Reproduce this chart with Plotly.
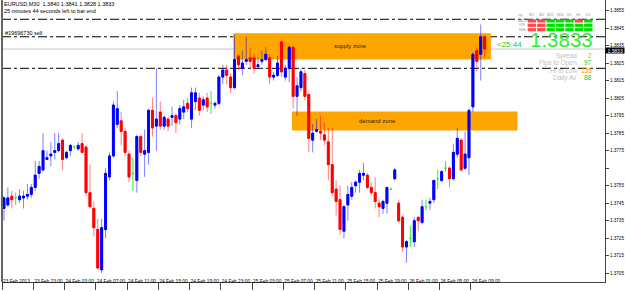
import plotly.graph_objects as go

# ---------------- data ----------------
symbol_line = "EURUSD,M30  1.3840 1.3841 1.3828 1.3833"
timer_line = "25 minutes 44 seconds left to bar end"
order_label = "#19696730 sell"

tick_labels = ["23 Feb 2013", "23 Feb 23:00", "24 Feb 03:00", "24 Feb 07:00", "24 Feb 11:00",
               "24 Feb 15:00", "24 Feb 19:00", "24 Feb 23:00", "25 Feb 03:00", "25 Feb 07:00",
               "25 Feb 11:00", "25 Feb 15:00", "25 Feb 19:00", "26 Feb 01:00", "26 Feb 05:00",
               "26 Feb 09:00"]
bars_per_label = 8

price_ticks = [1.3705, 1.3715, 1.3725, 1.3735, 1.3745, 1.3755, 1.3765, 1.3775, 1.3785,
               1.3795, 1.3805, 1.3815, 1.3825, 1.3835, 1.3845, 1.3855]
price_tick_text = ["1.3705", "1.3715", "1.3725", "1.3735", "1.3745", "1.3755", "", "1.3775",
                   "1.3785", "1.3795", "1.3805", "1.3815", "1.3825", "1.3835", "1.3845", "1.3855"]

opens = [1.3742, 1.3744, 1.3749, 1.3748, 1.3747, 1.3748, 1.3749, 1.3750, 1.3754, 1.3762,
         1.3764, 1.3770, 1.3772, 1.3774, 1.3775, 1.3781, 1.3771, 1.3775, 1.3777, 1.3776,
         1.3779, 1.3777, 1.3751, 1.3742, 1.3730, 1.3707, 1.3730, 1.3760, 1.3772, 1.3790,
         1.3792, 1.3786, 1.3773, 1.3762, 1.3758, 1.3783, 1.3773, 1.3774, 1.3798, 1.3789,
         1.3797, 1.3789, 1.3793, 1.3794, 1.3795, 1.3793, 1.3797, 1.3802, 1.3793, 1.3803,
         1.3805, 1.3801, 1.3805, 1.3802, 1.3801, 1.3802, 1.3817, 1.3821, 1.3817, 1.3811,
         1.3829, 1.3822, 1.3826, 1.3828, 1.3828, 1.3823, 1.3826, 1.3827, 1.3828, 1.3817,
         1.3818, 1.3837, 1.3817, 1.3822, 1.3834, 1.3806, 1.3811, 1.3819, 1.3807, 1.3781,
         1.3786, 1.3786, 1.3784, 1.3780, 1.3767, 1.3753, 1.3747, 1.3729, 1.3744, 1.3749,
         1.3755, 1.3757, 1.3761, 1.3761, 1.3754, 1.3751, 1.3745, 1.3742, 1.3745, 1.3753,
         1.3759, 1.3745, 1.3737, 1.3720, 1.3725, 1.3723, 1.3737, 1.3734, 1.3743, 1.3745,
         1.3747, 1.3759, 1.3758, 1.3765, 1.3765, 1.3759, 1.3773, 1.3781, 1.3765, 1.3771,
         1.3800, 1.3832, 1.3830, 1.3840]
highs = [1.3749, 1.3754, 1.3752, 1.3751, 1.3753, 1.3752, 1.3756, 1.3756, 1.3769, 1.3769,
         1.3785, 1.3775, 1.3780, 1.3785, 1.3785, 1.3782, 1.3775, 1.3779, 1.3778, 1.3780,
         1.3785, 1.3778, 1.3767, 1.3746, 1.3736, 1.3736, 1.3765, 1.3774, 1.3803, 1.3809,
         1.3797, 1.3788, 1.3775, 1.3771, 1.3784, 1.3784, 1.3787, 1.3799, 1.3805, 1.3822,
         1.3803, 1.3795, 1.3794, 1.3800, 1.3796, 1.3801, 1.3804, 1.3805, 1.3811, 1.3811,
         1.3808, 1.3806, 1.3808, 1.3809, 1.3803, 1.3818, 1.3824, 1.3824, 1.3819, 1.3841,
         1.3830, 1.3832, 1.3840, 1.3834, 1.3830, 1.3828, 1.3832, 1.3834, 1.3830, 1.3820,
         1.3829, 1.3838, 1.3824, 1.3835, 1.3835, 1.3817, 1.3822, 1.3821, 1.3808, 1.3790,
         1.3793, 1.3795, 1.3791, 1.3788, 1.3788, 1.3758, 1.3755, 1.3744, 1.3755, 1.3757,
         1.3758, 1.3764, 1.3768, 1.3762, 1.3757, 1.3760, 1.3747, 1.3747, 1.3754, 1.3754,
         1.3765, 1.3747, 1.3738, 1.3724, 1.3732, 1.3737, 1.3737, 1.3747, 1.3747, 1.3748,
         1.3758, 1.3764, 1.3764, 1.3769, 1.3766, 1.3779, 1.3788, 1.3782, 1.3786, 1.3799,
         1.3831, 1.3834, 1.3847, 1.3841]
lows = [1.3735, 1.3743, 1.3742, 1.3744, 1.3745, 1.3742, 1.3747, 1.3748, 1.3752, 1.3759,
        1.3763, 1.3770, 1.3766, 1.3770, 1.3774, 1.3764, 1.3770, 1.3772, 1.3776, 1.3775,
        1.3774, 1.3749, 1.3742, 1.3726, 1.3707, 1.3705, 1.3725, 1.3758, 1.3771, 1.3788,
        1.3778, 1.3772, 1.3757, 1.3752, 1.3751, 1.3772, 1.3760, 1.3767, 1.3783, 1.3775,
        1.3787, 1.3787, 1.3786, 1.3789, 1.3785, 1.3790, 1.3793, 1.3797, 1.3788, 1.3798,
        1.3795, 1.3798, 1.3797, 1.3796, 1.3799, 1.3801, 1.3813, 1.3813, 1.3808, 1.3810,
        1.3821, 1.3818, 1.3824, 1.3822, 1.3819, 1.3822, 1.3824, 1.3826, 1.3813, 1.3815,
        1.3817, 1.3817, 1.3815, 1.3814, 1.3799, 1.3795, 1.3809, 1.3804, 1.3774, 1.3774,
        1.3785, 1.3781, 1.3778, 1.3758, 1.3749, 1.3738, 1.3727, 1.3725, 1.3735, 1.3747,
        1.3751, 1.3751, 1.3758, 1.3753, 1.3750, 1.3742, 1.3737, 1.3739, 1.3739, 1.3753,
        1.3758, 1.3734, 1.3717, 1.3711, 1.3720, 1.3720, 1.3729, 1.3733, 1.3741, 1.3741,
        1.3745, 1.3753, 1.3757, 1.3763, 1.3754, 1.3758, 1.3771, 1.3763, 1.3764, 1.3761,
        1.3797, 1.3820, 1.3815, 1.3828]
closes = [1.3748, 1.3748, 1.3747, 1.3748, 1.3749, 1.3749, 1.3750, 1.3754, 1.3761, 1.3766,
          1.3775, 1.3771, 1.3773, 1.3775, 1.3779, 1.3770, 1.3774, 1.3778, 1.3777, 1.3778,
          1.3774, 1.3751, 1.3743, 1.3731, 1.3708, 1.3731, 1.3762, 1.3772, 1.3801, 1.3799,
          1.3786, 1.3774, 1.3760, 1.3762, 1.3783, 1.3774, 1.3775, 1.3798, 1.3788, 1.3793,
          1.3789, 1.3794, 1.3789, 1.3795, 1.3791, 1.3799, 1.3800, 1.3799, 1.3808, 1.3808,
          1.3798, 1.3804, 1.3800, 1.3802, 1.3802, 1.3817, 1.3821, 1.3818, 1.3811, 1.3827,
          1.3824, 1.3825, 1.3827, 1.3826, 1.3822, 1.3824, 1.3827, 1.3830, 1.3817, 1.3818,
          1.3825, 1.3820, 1.3822, 1.3834, 1.3806, 1.3812, 1.3820, 1.3806, 1.3782, 1.3785,
          1.3787, 1.3785, 1.3781, 1.3767, 1.3751, 1.3746, 1.3730, 1.3743, 1.3750, 1.3754,
          1.3757, 1.3762, 1.3762, 1.3754, 1.3751, 1.3746, 1.3743, 1.3746, 1.3754, 1.3753,
          1.3764, 1.3735, 1.3720, 1.3723, 1.3725, 1.3735, 1.3735, 1.3743, 1.3743, 1.3746,
          1.3758, 1.3759, 1.3763, 1.3765, 1.3759, 1.3774, 1.3782, 1.3764, 1.3773, 1.3798,
          1.3830, 1.3826, 1.3840, 1.3833]

order_levels = [1.3850, 1.3840, 1.3822]          # dash-dot order / SL / TP lines
bid_price = 1.3833
supply_zone = {"start": 58.7, "end": 124.6, "low": 1.3827, "high": 1.3842, "label": "supply zone"}
demand_zone = {"start": 73.7, "end": 131.4, "low": 1.37865, "high": 1.37973, "label": "demand zone"}

timer_text = "<25:44"
big_price_text = "1.3833"
info_labels = ["Spread", "Pips to Open", "Hi to Low", "Daily Av"]
info_values = ["2", "97", "135", "88"]
info_colors = ["#FF8C00", "#22CC22", "#FF8C00", "#22CC22"]

grid_columns = ["M1", "M5", "M15", "M30", "H1", "H4", "D1"]
grid_rows = ["MACD", "STR", "EMA"]
grid_signals = [[0, 0, 1, 1, 1, 0, 1],
                [0, 0, 1, 1, 1, 1, 1],
                [0, 0, 1, 1, 1, 1, 1]]

# ---------------- layout helpers ----------------
W, H = 625, 292
ML, MR, MT, MB = 2, 20, 0, 10
PW, PH = W - ML - MR, H - MT - MB


def px(x):
    return (x - ML) / PW


def py(y):
    return 1 - (y - MT) / PH


FONT = "Liberation Sans"
BLUE, RED, LIME = "#0000FF", "#FF0000", "#33EE33"
BLUE_W, RED_W = "rgba(0,0,255,0.5)", "rgba(255,0,0,0.5)"

n = len(opens)
idx = list(range(n))
up = [i for i in idx if closes[i] > opens[i]]
dn = [i for i in idx if closes[i] < opens[i]]
dj = [i for i in idx if closes[i] == opens[i]]


def pick(arr, ids):
    return [arr[i] for i in ids]


def candle(ids, o, h, l, c, color, fill, width=1):
    return go.Candlestick(
        x=ids, open=o, high=h, low=l, close=c,
        increasing=dict(line=dict(color=color, width=width), fillcolor=fill),
        decreasing=dict(line=dict(color=color, width=width), fillcolor=fill),
        hoverinfo="skip", showlegend=False)


fig = go.Figure()
# wicks (thin, lighter)
for ids, col in ((up, BLUE_W), (dn, RED_W)):
    fig.add_trace(candle(ids, pick(opens, ids), pick(highs, ids), pick(lows, ids),
                         pick(closes, ids), col, col))
# doji (line-graph colour)
fig.add_trace(candle(dj, pick(opens, dj), pick(highs, dj), pick(lows, dj), pick(closes, dj),
                     LIME, LIME))
# solid bodies
for ids, col in ((up, BLUE), (dn, RED)):
    o = pick(opens, ids)
    c = pick(closes, ids)
    fig.add_trace(candle(ids, o, [max(a, b) for a, b in zip(o, c)],
                         [min(a, b) for a, b in zip(o, c)], c, col, col))

shapes = []
for lv in order_levels:
    shapes.append(dict(type="line", xref="paper", x0=0, x1=1, yref="y", y0=lv, y1=lv,
                       line=dict(color="#000000", width=1, dash="dashdot"), layer="below"))
for z in (supply_zone, demand_zone):
    shapes.append(dict(type="rect", xref="x", x0=z["start"], x1=z["end"], yref="y",
                       y0=z["low"], y1=z["high"], fillcolor="#FFA500",
                       line=dict(width=0), layer="below"))
shapes.append(dict(type="line", xref="paper", x0=0, x1=1, yref="y", y0=bid_price, y1=bid_price,
                   line=dict(color="#C8C8C8", width=1), layer="below"))
# left frame
shapes.append(dict(type="line", xref="paper", x0=0, x1=0, yref="paper", y0=0, y1=1,
                   line=dict(color="#666666", width=2)))

# signal grid
col_x0, col_w, col_gap = 527.7, 8.4, 1.0
row_y0, row_h, row_gap = 19.3, 3.2, 1.2
for r, row in enumerate(grid_signals):
    for c, s in enumerate(row):
        x0 = col_x0 + c * (col_w + col_gap)
        y0 = row_y0 + r * (row_h + row_gap)
        shapes.append(dict(type="rect", xref="paper", yref="paper",
                           x0=px(x0), x1=px(x0 + col_w), y0=py(y0 + row_h), y1=py(y0),
                           fillcolor="#00E000" if s else "#FF4848", line=dict(width=0)))

ann = []


def text(x, y, t, size, color, anchor="left", family=FONT):
    ann.append(dict(xref="paper", yref="paper", x=px(x), y=py(y), text=t, showarrow=False,
                    xanchor=anchor, yanchor="middle", borderpad=0,
                    font=dict(family=family, size=size, color=color)))


text(3, 4.5, symbol_line, 5.5, "#000000")
text(3, 10.5, timer_line, 5.5, "#000000")
text(4, 32.5, order_label, 5.5, "#000000")

for z in (supply_zone, demand_zone):
    ann.append(dict(xref="x", yref="y", x=(z["start"] + z["end"]) / 2 + (-3 if z is supply_zone else -7),
                    y=(z["low"] + z["high"]) / 2, text=z["label"], showarrow=False,
                    font=dict(family=FONT, size=6, color="#222222")))

text(509.5, 44.5, timer_text, 8, "#22CC22", anchor="center")
text(594, 40, big_price_text, 20.5, LIME, anchor="right")
for k, (lab, val, vc) in enumerate(zip(info_labels, info_values, info_colors)):
    yy = 55.6 + k * 7.4
    text(577.5, yy, lab, 6.5, "#C0C0C0", anchor="right")
    text(592.5, yy, val, 6.5, vc, anchor="right")

text(520.5, 15.5, "sig", 3.5, "#999999", anchor="center")
for c, lab in enumerate(grid_columns):
    text(col_x0 + c * (col_w + col_gap) + col_w / 2, 15.5, lab, 3.5, "#999999", anchor="center")
for r, lab in enumerate(grid_rows):
    text(522.5, row_y0 + r * (row_h + row_gap) + row_h / 2, lab, 3, "#999999", anchor="center")

# current price box on the price scale
ann.append(dict(xref="paper", yref="y", x=1.0, y=bid_price, text=" " + big_price_text + " ",
                showarrow=False, xanchor="left", yanchor="top", yshift=2, bgcolor="#000000",
                borderpad=0, height=5, font=dict(family=FONT, size=5, color="#FFFFFF")))

fig.update_layout(
    width=W, height=H, margin=dict(l=ML, r=MR, t=MT, b=MB),
    paper_bgcolor="white", plot_bgcolor="white",
    showlegend=False, hovermode=False, shapes=shapes, annotations=ann,
    xaxis=dict(range=[-0.5, 153.8], rangeslider=dict(visible=False), showgrid=False,
               zeroline=False, showline=True, linecolor="#444444", linewidth=1,
               tickvals=[k * bars_per_label - 0.5 for k in range(len(tick_labels))],
               ticktext=tick_labels, ticks="outside", ticklen=7, tickcolor="#444444",
               tickangle=0, ticklabelposition="outside right", ticklabelstandoff=-6,
               tickfont=dict(family=FONT, size=4.8, color="#000000")),
    yaxis=dict(range=[1.3700, 1.3861], side="right", showgrid=False, zeroline=False,
               showline=True, linecolor="#444444", linewidth=1,
               tickvals=price_ticks, ticktext=price_tick_text, ticks="outside", ticklen=3,
               tickcolor="#444444", tickfont=dict(family=FONT, size=4.6, color="#000000")),
)

fig.write_html("out.html")
